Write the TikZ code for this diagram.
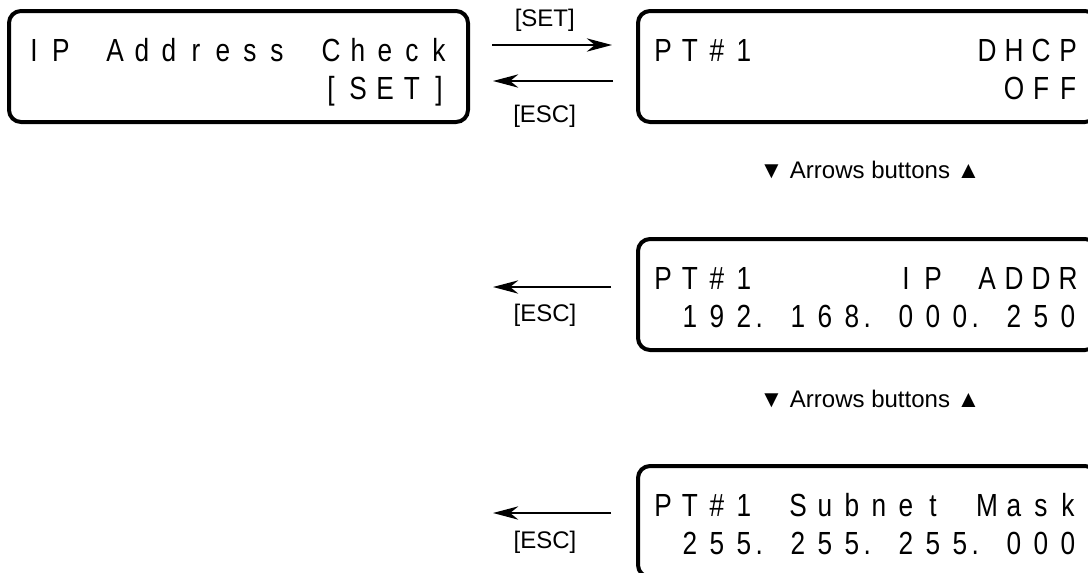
\documentclass[tikz,border=0pt]{standalone}
\usepackage{fontspec}
\setmainfont{Liberation Sans}
\newfontfamily\lcdfont[FakeStretch=0.82]{Liberation Sans}
\usetikzlibrary{calc,arrows.meta}

\newcommand{\lcdrow}[3]{%
	\foreach \ch [count=\k from 0] in {#3}
		\node[lcdchar] (#1-#2-\k) at ($(#1.north west)+(25+27*\k,#2)$) {\ch};
}
\newcommand{\lcddot}{\makebox[0pt][r]{.\hspace{6pt}}}

\begin{document}
\begin{tikzpicture}[x=0.75pt, y=-0.75pt,
	every node/.style={font=\fontsize{18}{20}\selectfont},
	lcdbox/.style={draw, line width=3pt, rounded corners=9pt, inner sep=0pt, outer sep=0pt,
		minimum width=344.25pt, minimum height=83.25pt},
	lcdchar/.style={anchor=base, inner sep=0pt, font=\lcdfont\fontsize{24}{24}\selectfont},
	navarrow/.style={line width=1.5pt, -{Stealth[length=19pt, width=10pt]}},
	keylbl/.style={anchor=base, inner sep=0pt},
	btnlbl/.style={anchor=base, inner sep=0pt}]
	\clip (0,0) rectangle (1088,572);
	\node[lcdbox] (chk) at (238.5,66.5) {};
	\node[lcdbox] (dhcp) at (867.5,66.5) {};
	\node[lcdbox] (ipaddr) at (867.5,294.5) {};
	\node[lcdbox] (mask) at (867.5,521.5) {};
	\lcdrow{chk}{50}{I,P, ,A,d,d,r,e,s,s, ,C,h,e,c,k}
	\lcdrow{chk}{88}{ , , , , , , , , , , ,{[},S,E,T,{]}}
	\lcdrow{dhcp}{50}{P,T,\#,1, , , , , , , , ,D,H,C,P}
	\lcdrow{dhcp}{88}{ , , , , , , , , , , , , ,O,F,F}
	\lcdrow{ipaddr}{50}{P,T,\#,1, , , , , ,I,P, ,A,D,D,R}
	\lcdrow{ipaddr}{88}{ ,1,9,2,\lcddot,1,6,8,\lcddot,0,0,0,\lcddot,2,5,0}
	\lcdrow{mask}{50}{P,T,\#,1, ,S,u,b,n,e,t, ,M,a,s,k}
	\lcdrow{mask}{88}{ ,2,5,5,\lcddot,2,5,5,\lcddot,2,5,5,\lcddot,0,0,0}
	\draw[navarrow] ([shift={(24,-21.5)}]chk.east) -- ([shift={(-26,-21.5)}]dhcp.west)
		node[keylbl, pos=0.44, yshift=14.25pt] (setlbl) {[SET]};
	\draw[navarrow] ([shift={(-25,14.5)}]dhcp.west) -- ([shift={(25,14.5)}]chk.east)
		node[keylbl, pos=0.57, yshift=-30.75pt] (esclbl1) {[ESC]};
	\coordinate (escend2) at (493,287);
	\coordinate (escend3) at (493,513);
	\draw[navarrow] ([shift={(-27,-7.5)}]ipaddr.west) -- (escend2)
		node[keylbl, pos=0.56, yshift=-25.5pt] (esclbl2) {[ESC]};
	\draw[navarrow] ([shift={(-27,-8.5)}]mask.west) -- (escend3)
		node[keylbl, pos=0.56, yshift=-26.25pt] (esclbl3) {[ESC]};
	\node[btnlbl] (btn1) at ($(dhcp.south)+(2.5,56)$) {▼ Arrows buttons ▲};
	\node[btnlbl] (btn2) at ($(ipaddr.south)+(2.5,57)$) {▼ Arrows buttons ▲};
\end{tikzpicture}
\end{document}
